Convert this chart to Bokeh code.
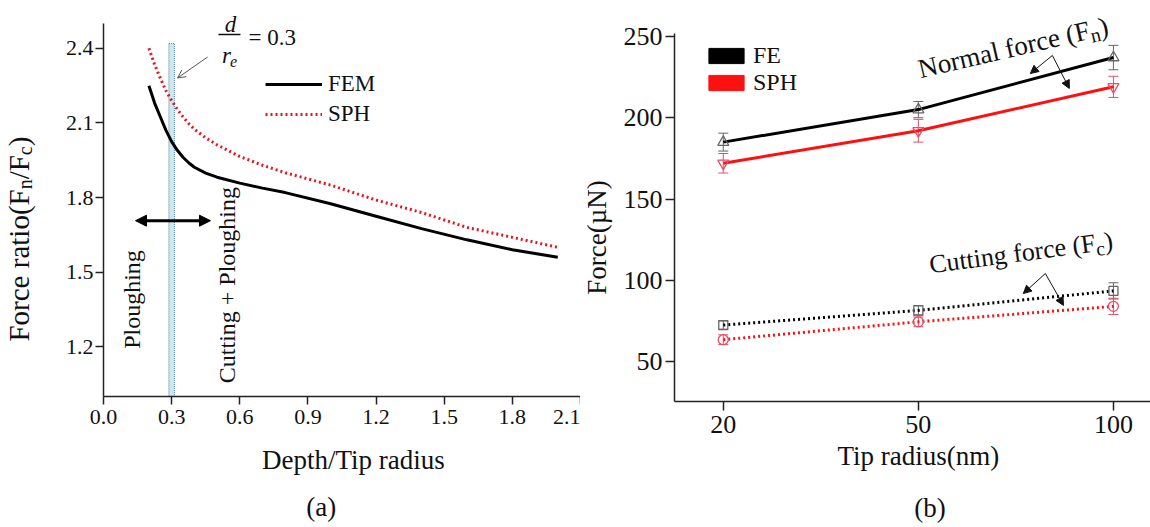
import math
from bokeh.plotting import figure
from bokeh.layouts import row
from bokeh.models import (Range1d, FixedTicker, Label, Arrow, NormalHead, OpenHead, Whisker,
                          TeeHead, ColumnDataSource, Legend, LegendItem, NumeralTickFormatter)
from bokeh.embed import file_html
from bokeh.resources import INLINE

SERIF = "Liberation Serif"

# ---------------- (a) force ratio against depth / tip radius ----------------
depth_ratio = [0.200, 0.225, 0.250, 0.275, 0.300, 0.325, 0.350, 0.375, 0.400, 0.450, 0.500,
               0.600, 0.700, 0.800, 1.000, 1.200, 1.400, 1.600, 1.800, 2.000]
fem_force_ratio = [2.250, 2.180, 2.125, 2.070, 2.025, 1.990, 1.962, 1.940, 1.922, 1.898, 1.882,
                   1.858, 1.838, 1.820, 1.775, 1.725, 1.675, 1.630, 1.590, 1.560]
sph_force_ratio = [2.400, 2.335, 2.280, 2.230, 2.190, 2.155, 2.125, 2.098, 2.075, 2.040, 2.012,
                   1.965, 1.930, 1.900, 1.850, 1.790, 1.740, 1.680, 1.640, 1.600]
transition_ratio = 0.3
depth_ticks = [0.0, 0.3, 0.6, 0.9, 1.2, 1.5, 1.8, 2.1]
ratio_ticks = [1.2, 1.5, 1.8, 2.1, 2.4]

# ---------------- (b) forces against tip radius ----------------
tip_radius = ["20", "50", "100"]
fe_normal = [185.0, 205.0, 237.0]
fe_normal_err = [5.5, 5.0, 7.5]
sph_normal = [172.0, 192.0, 219.0]
sph_normal_err = [6.0, 7.0, 6.5]
fe_cutting = [72.5, 81.5, 93.5]
fe_cutting_err = [2.5, 3.0, 5.0]
sph_cutting = [63.5, 74.5, 84.0]
sph_cutting_err = [3.0, 3.0, 5.0]
force_ticks = [50, 100, 150, 200, 250]

# advance widths (em) of a Times-metric serif, used to chain sub/normal text runs
GLYPH_EM = {"F": .556, "o": .5, "r": .333, "c": .444, "e": .444, " ": .25, "a": .444,
            "t": .278, "i": .278, "(": .333, ")": .333, "/": .278, "n": .5, "N": .722,
            "m": .778, "l": .278, "f": .333, "C": .667, "u": .5, "g": .5}


def advance(s, size):
    return sum(GLYPH_EM.get(ch, .5) for ch in s) * size


def rich_label(p, x, y, parts, angle_deg, size, sub_size, sub_drop):
    """Lay out runs of text (some lowered as subscripts) along a rotated line."""
    th = math.radians(angle_deg)
    d = 0.0
    for txt, sub in parts:
        fs = sub_size if sub else size
        dx = d * math.cos(th)
        dy = d * math.sin(th)
        if sub:
            dx += sub_drop * math.sin(th)
            dy -= sub_drop * math.cos(th)
        p.add_layout(Label(x=x, y=y, x_offset=dx, y_offset=dy, text=txt, angle=th,
                           text_font=SERIF, text_font_size=f"{fs}px", text_color="#111",
                           text_align="left", text_baseline="middle"))
        d += advance(txt, fs)


def text(p, x, y, s, size, angle=0.0, align="center", style="normal"):
    p.add_layout(Label(x=x, y=y, text=s, angle=angle, text_font=SERIF,
                       text_font_size=f"{size}px", text_font_style=style, text_color="#111",
                       text_align=align, text_baseline="middle"))


def stretch(lo, hi, px_lo, px_hi, px_total):
    """Data range spanning the whole canvas so that lo..hi lands on pixels px_lo..px_hi."""
    k = (hi - lo) / (px_hi - px_lo)
    return Range1d(lo - px_lo * k, hi + (px_total - px_hi) * k)


def panel(width, height, xlim, ylim, xpx, ypx):
    # the plotting frame fills the canvas; axes sit at fixed data locations inside it
    p = figure(width=width, height=height, output_backend="svg", toolbar_location=None,
               x_range=stretch(*xlim, *xpx, width),
               y_range=stretch(*ylim, height - ypx[0], height - ypx[1], height),
               min_border_left=0, min_border_right=0, min_border_top=0, min_border_bottom=0)
    p.grid.visible = False
    p.outline_line_color = None
    p.xaxis.fixed_location = ylim[0]
    p.xaxis.bounds = xlim
    p.yaxis.fixed_location = xlim[0]
    p.yaxis.bounds = ylim
    return p


def style_axes(p, font_px, standoff_x, standoff_y, tick_out):
    for ax, so in ((p.xaxis[0], standoff_x), (p.yaxis[0], standoff_y)):
        ax.axis_line_color = "#222"
        ax.axis_line_width = 1.5
        ax.major_tick_line_color = "#222"
        ax.major_tick_line_width = 1.5
        ax.major_tick_out = tick_out
        ax.major_tick_in = 0
        ax.minor_tick_line_color = None
        ax.major_label_text_font = SERIF
        ax.major_label_text_font_size = f"{font_px}px"
        ax.major_label_text_color = "#111"
        ax.major_label_standoff = so


# ======================= panel (a) =======================
pa = panel(580, 527, (0.0, 2.1), (1.0, 2.5), (103, 580), (396, 23))
pa.xaxis.ticker = FixedTicker(ticks=depth_ticks)
pa.xaxis.formatter = NumeralTickFormatter(format="0.0")
pa.yaxis.ticker = FixedTicker(ticks=ratio_ticks)
pa.yaxis.formatter = NumeralTickFormatter(format="0.0")
style_axes(pa, 22, 5, 2, 8)

# transition band at d/r_e = 0.3
pa.quad(left=[transition_ratio - 0.012], right=[transition_ratio + 0.012], bottom=[1.0],
        top=[2.42], fill_color="#cfe7f0", line_color="#4d7f99", line_dash="1 1", line_width=1)

fem_r = pa.line(depth_ratio, fem_force_ratio, line_color="black", line_width=3)
sph_r = pa.line(depth_ratio, sph_force_ratio, line_color="#e8141c", line_width=3,
                line_dash="2 3")

leg_a = Legend(items=[LegendItem(label="FEM", renderers=[fem_r]),
                      LegendItem(label="SPH", renderers=[sph_r])],
               location=(265, 400), glyph_width=57, glyph_height=20, label_height=20,
               spacing=4, padding=0, margin=0, label_standoff=6,
               label_text_font=SERIF, label_text_font_size="23px", label_text_color="#111",
               border_line_color=None, background_fill_alpha=0)
pa.add_layout(leg_a)

# d / r_e = 0.3 callout
text(pa, 0.559, 2.497, "d", 23, style="italic")
pa.segment(x0=[0.506], y0=[2.456], x1=[0.603], y1=[2.456], line_color="#111", line_width=1.5)
text(pa, 0.541, 2.372, "r", 23, style="italic")
text(pa, 0.557, 2.348, "e", 16, align="left", style="italic")
text(pa, 0.638, 2.442, "= 0.3", 23, align="left")
pa.add_layout(Arrow(x_start=0.458, y_start=2.365, x_end=0.326, y_end=2.281,
                    line_color="#555", line_width=1,
                    end=OpenHead(size=8, line_color="#555", line_width=1)))

# regime arrow and labels
pa.add_layout(Arrow(x_start=0.141, y_start=1.707, x_end=0.471, y_end=1.707,
                    line_color="black", line_width=3,
                    start=NormalHead(size=11, fill_color="black", line_color="black"),
                    end=NormalHead(size=11, fill_color="black", line_color="black")))
text(pa, 0.127, 1.39, "Ploughing", 24, angle=math.pi / 2)
text(pa, 0.545, 1.448, "Cutting + Ploughing", 24, angle=math.pi / 2)

# axis titles
rich_label(pa, -0.372, 1.221,
           [("Force ratio(F", False), ("n", True), ("/F", False), ("c", True), (")", False)],
           90, 29, 20, 6)
text(pa, 1.10, 0.743, "Depth/Tip radius", 27)
text(pa, 0.959, 0.554, "(a)", 27)

# ======================= panel (b) =======================
tip_pos = list(range(len(tip_radius)))
pb = panel(570, 527, (-0.25, 2.19), (25.5, 251.8), (94, 570), (401, 33))
pb.xaxis.ticker = FixedTicker(ticks=tip_pos)
pb.xaxis.major_label_overrides = {i: r for i, r in enumerate(tip_radius)}
pb.yaxis.ticker = FixedTicker(ticks=force_ticks)
style_axes(pb, 26, 5, 3, 9)

FE_EDGE = "#666666"
SPH_EDGE = "#e2506a"

pb.line(tip_pos, fe_normal, line_color="black", line_width=3)
pb.line(tip_pos, sph_normal, line_color="#ff1010", line_width=3)
pb.line(tip_pos, fe_cutting, line_color="black", line_width=3, line_dash="2 3")
pb.line(tip_pos, sph_cutting, line_color="#ff1010", line_width=3, line_dash="2 3")


def error_bars(p, xs, ys, errs, color):
    src = ColumnDataSource(dict(x=xs, upper=[y + e for y, e in zip(ys, errs)],
                                lower=[y - e for y, e in zip(ys, errs)]))
    p.add_layout(Whisker(source=src, base="x", upper="upper", lower="lower",
                         line_color=color, line_width=1,
                         upper_head=TeeHead(size=10, line_color=color, line_width=1),
                         lower_head=TeeHead(size=10, line_color=color, line_width=1)))


error_bars(pb, tip_pos, fe_normal, fe_normal_err, FE_EDGE)
error_bars(pb, tip_pos, sph_normal, sph_normal_err, SPH_EDGE)
error_bars(pb, tip_pos, fe_cutting, fe_cutting_err, FE_EDGE)
error_bars(pb, tip_pos, sph_cutting, sph_cutting_err, SPH_EDGE)

pb.scatter(tip_pos, fe_normal, marker="triangle", size=11, fill_alpha=0,
           line_color=FE_EDGE, line_width=1.3)
pb.scatter(tip_pos, sph_normal, marker="inverted_triangle", size=11, fill_alpha=0,
           line_color=SPH_EDGE, line_width=1.3)
pb.scatter(tip_pos, fe_cutting, marker="square", size=9, fill_alpha=0,
           line_color=FE_EDGE, line_width=1.3)
pb.scatter(tip_pos, sph_cutting, marker="circle", size=10, fill_alpha=0,
           line_color=SPH_EDGE, line_width=1.3)

# legend keys: filled swatches (no geometry of their own)
nan = float("nan")
fe_key = pb.quad(left=[nan], right=[nan], top=[nan], bottom=[nan],
                 fill_color="black", line_color="black")
sph_key = pb.quad(left=[nan], right=[nan], top=[nan], bottom=[nan],
                  fill_color="#ff1010", line_color="#ff1010")
leg_b = Legend(items=[LegendItem(label="FE", renderers=[fe_key]),
                      LegendItem(label="SPH", renderers=[sph_key])],
               location=(124, 431), glyph_width=44, glyph_height=19, label_height=19,
               spacing=0, padding=0, margin=0, label_standoff=5,
               label_text_font=SERIF, label_text_font_size="24px", label_text_color="#111",
               border_line_color=None, background_fill_alpha=0)
pb.add_layout(leg_b)

# curve callouts
rich_label(pb, 1.0, 229.7, [("Normal force (F", False), ("n", True), (")", False)], 13, 27, 20, 6)
for tip in ((1.574, 227.2), (1.774, 218.0)):
    pb.add_layout(Arrow(x_start=1.687, y_start=238.3, x_end=tip[0], y_end=tip[1],
                        line_color="#111", line_width=1,
                        end=NormalHead(size=8, fill_color="#111", line_color="#111")))
rich_label(pb, 1.056, 109.5, [("Cutting force (F", False), ("c", True), (")", False)], 7.5, 26, 20, 6)
for tip in ((1.538, 91.9), (1.744, 84.6)):
    pb.add_layout(Arrow(x_start=1.651, y_start=104.2, x_end=tip[0], y_end=tip[1],
                        line_color="#111", line_width=1,
                        end=NormalHead(size=8, fill_color="#111", line_color="#111")))

# axis titles
text(pb, -0.645, 126.4, "Force(µN)", 27, angle=math.pi / 2)
text(pb, 1.0, -8.3, "Tip radius(nm)", 27)
text(pb, 1.06, -39.7, "(b)", 27)

layout = row(pa, pb)
open("out.html", "w").write(file_html(layout, INLINE))
